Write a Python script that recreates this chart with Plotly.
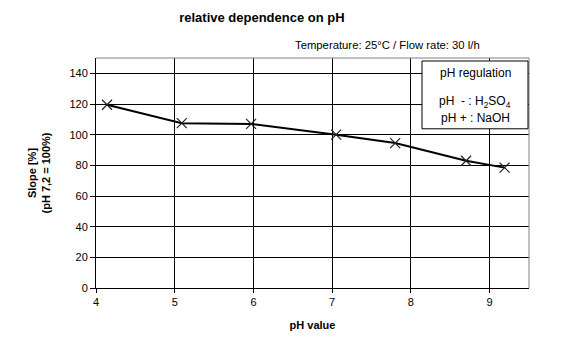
import plotly.graph_objects as go

ph = [4.14, 5.09, 5.97, 7.05, 7.80, 8.70, 9.19]
slope = [119.5, 107.5, 107.0, 100.0, 94.5, 83.0, 78.5]
x_ticks = [4, 5, 6, 7, 8, 9]
y_ticks = [0, 20, 40, 60, 80, 100, 120, 140]

FONT = "Liberation Sans, Arial, sans-serif"

fig = go.Figure()
fig.add_trace(go.Scatter(
    x=ph, y=slope, mode="lines+markers",
    line=dict(color="black", width=2),
    marker=dict(symbol="x-thin", size=10, line=dict(color="#222222", width=1.2)),
    showlegend=False, cliponaxis=False,
))

fig.update_layout(
    width=562, height=343,
    margin=dict(l=96, r=33, t=58, b=55),
    paper_bgcolor="white", plot_bgcolor="white",
    font=dict(family=FONT, size=11, color="black"),
    title=dict(text="<b>relative dependence on pH</b>", x=0.466, xanchor="center",
               y=1 - 17 / 343, yanchor="middle", font=dict(size=13, family=FONT)),
    xaxis=dict(range=[4, 9.5], tickvals=x_ticks, showgrid=True, gridcolor="black", gridwidth=1,
               zeroline=False, showline=True, linecolor="black", linewidth=1,
               ticks="outside", ticklen=4, tickcolor="black",
               mirror=False, title=dict(text="<b>pH value</b>", standoff=14, font=dict(size=11))),
    yaxis=dict(range=[0, 150], tickvals=y_ticks, showgrid=True, gridcolor="black", gridwidth=1,
               zeroline=False, showline=True, linecolor="black", linewidth=1,
               ticks="outside", ticklen=5, tickcolor="black",
               title=dict(text="<b>Slope [%]<br>(pH 7,2 = 100%)</b>", standoff=16, font=dict(size=11))),
)

# gray top/right border
fig.add_shape(type="line", xref="paper", yref="paper", x0=0, x1=1, y0=1, y1=1,
              line=dict(color="#808080", width=1))
fig.add_shape(type="line", xref="paper", yref="paper", x0=1, x1=1, y0=0, y1=1,
              line=dict(color="#808080", width=1))

# subtitle
fig.add_annotation(text="Temperature: 25°C / Flow rate: 30 l/h", xref="paper", yref="paper",
                   x=1, y=1, xanchor="right", yanchor="bottom", yshift=5, xshift=-47,
                   showarrow=False, font=dict(size=11.3, family=FONT))

# legend-like box
fig.add_shape(type="rect", xref="paper", yref="paper",
              x0=(422 - 96) / 433, x1=(528 - 96) / 433,
              y0=(288.7 - 129) / 230.7, y1=(288.7 - 61) / 230.7,
              line=dict(color="black", width=1), fillcolor="white", layer="above")
cx = (475 - 96) / 433
for txt, ypix in [("pH regulation", 73), ("pH  - : H<sub>2</sub>SO<sub>4</sub>", 102),
                  ("pH + : NaOH", 118)]:
    fig.add_annotation(text=txt, xref="paper", yref="paper", x=cx, y=(288.7 - ypix) / 230.7,
                       xanchor="center", yanchor="middle", showarrow=False,
                       font=dict(size=12, family=FONT))

fig.write_html("out.html")
